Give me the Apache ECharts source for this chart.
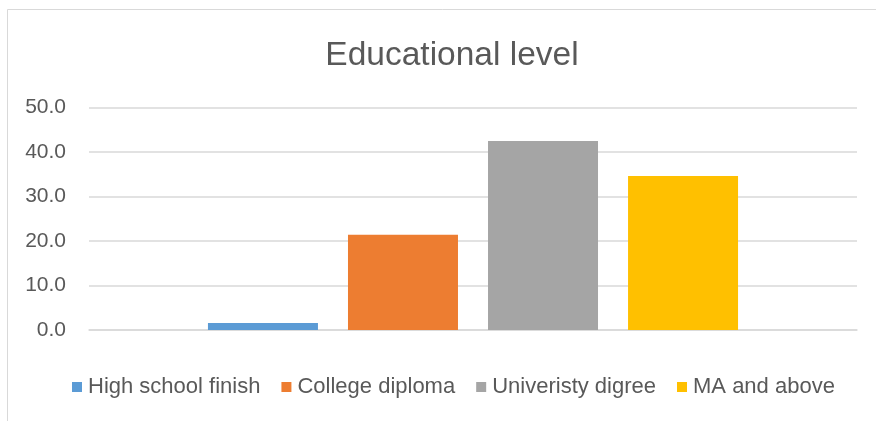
<!DOCTYPE html>
<html>
<head>
<meta charset="utf-8">
<script src="https://cdn.jsdelivr.net/npm/echarts@6/dist/echarts.min.js"></script>
<style>
  html, body { margin: 0; padding: 0; background: #fff; }
  #chart { width: 876px; height: 421px; }
</style>
</head>
<body>
<div id="chart"></div>
<script>
// Share of respondents by educational level (%)
const seriesNames = ['High school finish', 'College diploma', 'Univeristy digree', 'MA and above'];
const seriesValues = [1.6, 21.4, 42.5, 34.6];
const seriesColors = ['#5b9bd5', '#ed7d31', '#a5a5a5', '#ffc000'];
const categories = ['Educational level'];
const yTicks = [0, 10, 20, 30, 40, 50];

const FONT = '"Liberation Sans", Arial, sans-serif';
const TEXT = '#595959';

const chart = echarts.init(document.getElementById('chart'), null, { renderer: 'canvas' });

chart.setOption({
  animation: false,
  backgroundColor: '#fff',
  title: {
    text: categories[0],
    left: 447,
    textAlign: 'center',
    top: 34,
    textStyle: { fontFamily: FONT, fontSize: 33.5, fontWeight: 'normal', color: TEXT }
  },
  graphic: [{
    type: 'rect',
    shape: { x: 7.5, y: 9.5, width: 900, height: 450 },
    style: { fill: 'none', stroke: '#d9d9d9', lineWidth: 1 },
    silent: true,
    z: -1
  }],
  legend: {
    data: seriesNames,
    top: 371,
    left: 67,
    icon: 'rect',
    itemWidth: 10,
    itemHeight: 10,
    itemGap: 21,
    textStyle: { fontFamily: FONT, fontSize: 22, color: TEXT, padding: [0, 0, 0, 1] }
  },
  grid: { left: 89, right: 19, top: 107.5, bottom: 91, containLabel: false },
  xAxis: {
    type: 'category',
    data: categories,
    axisLine: { show: true, lineStyle: { color: '#d9d9d9', width: 1.5 } },
    axisTick: { show: false },
    axisLabel: { show: false }
  },
  yAxis: {
    type: 'value',
    min: yTicks[0],
    max: yTicks[yTicks.length - 1],
    interval: 10,
    axisLine: { show: false },
    axisTick: { show: false },
    splitLine: { lineStyle: { color: '#d9d9d9', width: 1.5 } },
    axisLabel: {
      margin: 23,
      fontFamily: FONT,
      fontSize: 21,
      color: TEXT,
      formatter: v => v.toFixed(1)
    }
  },
  series: seriesNames.map((name, i) => ({
    name,
    type: 'bar',
    data: [seriesValues[i]],
    barWidth: 110,
    barGap: '27.3%',
    itemStyle: { color: seriesColors[i] }
  }))
});
</script>
</body>
</html>
